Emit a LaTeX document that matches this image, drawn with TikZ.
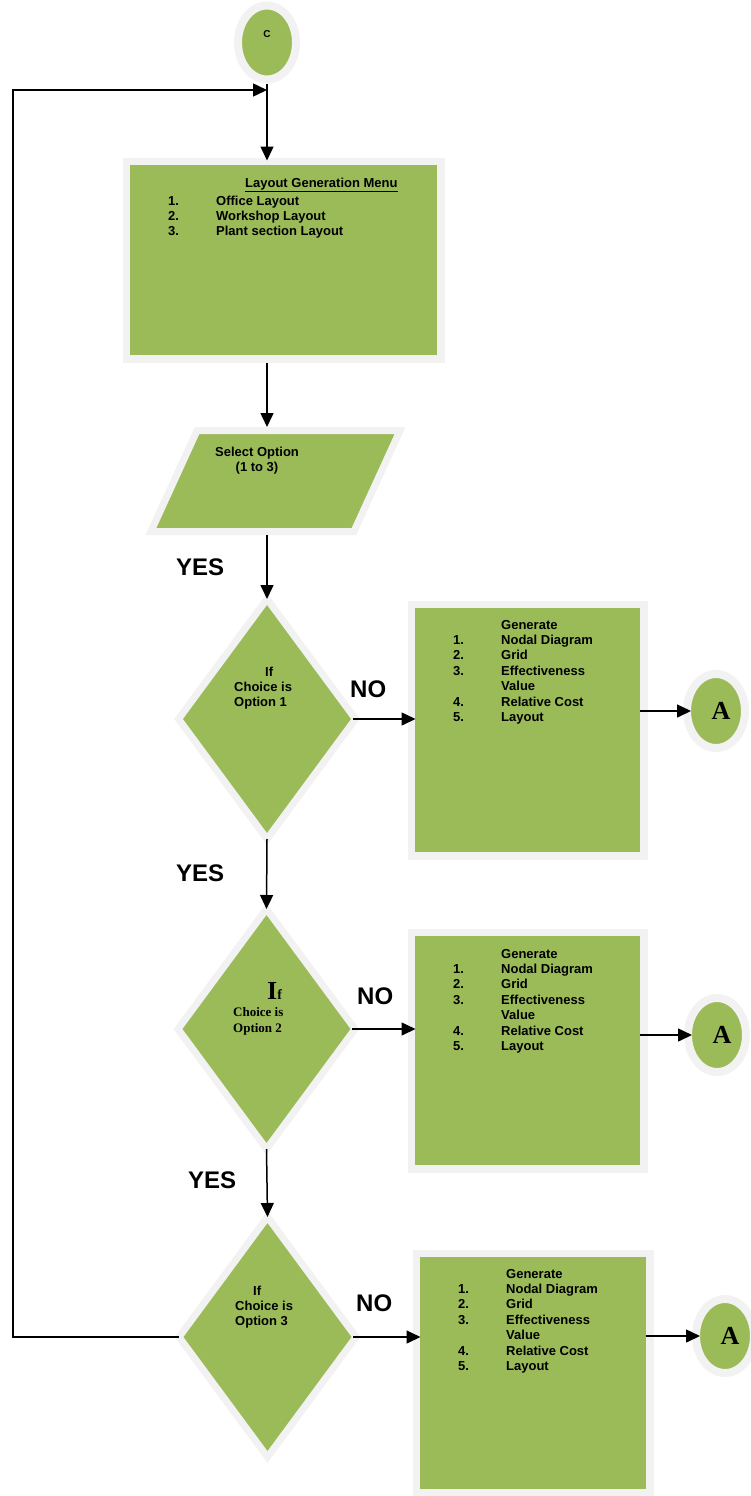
\documentclass[tikz,border=0pt]{standalone}
\usepackage{fontspec}
\setmainfont{Liberation Sans}
\newfontfamily\timesfont{Liberation Serif}
\usetikzlibrary{shapes.geometric,arrows.meta,positioning}
\definecolor{boxgreen}{HTML}{9BBB59}
\definecolor{rimgray}{HTML}{F2F2F2}
\newcommand{\genlist}{%
  \begin{tabular}[t]{@{}p{48pt}@{}l@{}}
     & Generate\\
  1. & Nodal Diagram\\
  2. & Grid\\
  3. & Effectiveness\\
     & Value\\
  4. & Relative Cost\\
  5. & Layout
  \end{tabular}}
\begin{document}
\begin{tikzpicture}[x=1pt,y=-1pt,
  block/.style={draw=rimgray, fill=boxgreen, line width=7.5pt, rectangle, inner sep=0pt},
  decision/.style={draw=rimgray, fill=boxgreen, line width=7pt, diamond, inner sep=0pt, outer sep=0pt, minimum width=177pt, minimum height=240pt},
  connector/.style={draw=rimgray, fill=boxgreen, line width=8pt, ellipse, inner sep=0pt, minimum width=58pt, minimum height=74pt},
  txt/.style={font=\fontsize{13}{15.4}\selectfont\bfseries, inner sep=0pt, anchor=base west},
  big/.style={font=\fontsize{24}{28}\selectfont\bfseries, inner sep=0pt, anchor=base west},
  arr/.style={-{Triangle[length=14pt,width=13pt]}, line width=1.5pt}]
            \useasboundingbox (0,0) rectangle (751,1496);
            % Draw blocks
            \node[connector] (c) at (267,42.5) {};
            \node[font=\fontsize{10}{12}\selectfont\bfseries, inner sep=0pt] (clabel) at ([yshift=8pt]c.center) {C};
            \node[block, minimum width=314.5pt, minimum height=197.5pt] (menu) at (283.5,260) {};
            % input block: a slanted rectangle
            \node[block, line width=7pt, xslant=0.457, minimum width=203pt, minimum height=101pt] (select) at (275.5,481) {};
            \node[decision] (d1) at (267,719) {};
            \node[decision] (d2) at (266.5,1029) {};
            \node[decision] (d3) at (267.5,1337) {};
            \node[block, minimum width=232.5pt, minimum height=251.5pt] (b1) at (527.5,730) {};
            \node[block, minimum width=232.5pt, minimum height=236.5pt] (b2) at (527.5,1050.5) {};
            \node[block, minimum width=233.5pt, minimum height=239.5pt] (b3) at (533,1373) {};
            \node[connector, font=\timesfont\fontsize{26}{26}\selectfont\bfseries] (a1) at (716,711) {\hspace{10pt}A};
            \node[connector, font=\timesfont\fontsize{26}{26}\selectfont\bfseries] (a2) at (717,1035) {\hspace{10pt}A};
            \node[connector, font=\timesfont\fontsize{26}{26}\selectfont\bfseries] (a3) at (725,1336) {\hspace{10pt}A};

            % texts in the blocks
            \node[txt] (menuttl) at (245,187) {\underline{Layout Generation Menu}};
            \node[txt] (menulist) at (168,205) {\begin{tabular}[t]{@{}p{48pt}@{}l@{}}1. & Office Layout\\ 2. & Workshop Layout\\ 3. & Plant section Layout\end{tabular}};
            \node[txt, anchor=base] (selecttxt) at (257,456) {\begin{tabular}[t]{@{}c@{}}Select Option\\ (1 to 3)\end{tabular}};
            \node[txt] (d1txt) at (234,676) {\begin{tabular}[t]{@{}l@{}}\hspace{31pt}If\\ Choice is\\ Option 1\end{tabular}};
            \node[txt, font=\timesfont\fontsize{13}{15.4}\selectfont\bfseries] (d2txt) at (233,999) {\begin{tabular}[t]{@{}l@{}}\hspace{34pt}{\fontsize{26}{26}\selectfont I}{\fontsize{14}{14}\selectfont f}\\[2.5pt] Choice is\\ Option 2\end{tabular}};
            \node[txt] (d3txt) at (235,1295) {\begin{tabular}[t]{@{}l@{}}\hspace{18pt}If\\ Choice is\\ Option 3\end{tabular}};
            \node[txt] (b1txt) at (453,629) {\genlist};
            \node[txt] (b2txt) at (453,958) {\genlist};
            \node[txt] (b3txt) at (458,1278) {\genlist};

            % yes / no labels
            \node[big] (yes1) at (176,575) {YES};
            \node[big] (yes2) at (176,881) {YES};
            \node[big] (yes3) at (188,1188) {YES};
            \node[big] (no1) at (350,697) {NO};
            \node[big] (no2) at (357,1004) {NO};
            \node[big] (no3) at (356,1311) {NO};

            % connectors
            \coordinate (loopin) at (267,90);
            \coordinate (loopleft) at (13,90);
            \draw[arr, shorten >=-3pt] (c.south) -- (menu.north -| c.south);
            \draw[arr] (menu.south -| c.south) -- (select.north -| c.south);
            \draw[arr] (select.south -| c.south) -- (d1.north);
            \draw[arr] (d1.south) -- (d2.north);
            \draw[arr] (d2.south) -- (d3.north);
            \draw[arr, shorten <=-3pt, shorten >=-8pt] (d1.east) -- (d1.east -| b1.west);
            \draw[arr, shorten <=-3pt, shorten >=-8pt] (d2.east) -- (d2.east -| b2.west);
            \draw[arr, shorten <=-3pt, shorten >=-8pt] (d3.east) -- (d3.east -| b3.west);
            \draw[arr, shorten <=-8pt, shorten >=-8pt] (b1.east |- a1.west) -- (a1.west);
            \draw[arr, shorten <=-8pt, shorten >=-8pt] (b2.east |- a2.west) -- (a2.west);
            \draw[arr, shorten <=-8pt, shorten >=-8pt] (b3.east |- a3.west) -- (a3.west);
            \draw[arr] (d3.west) -| (loopleft) -- (loopin);
        \end{tikzpicture}
\end{document}
